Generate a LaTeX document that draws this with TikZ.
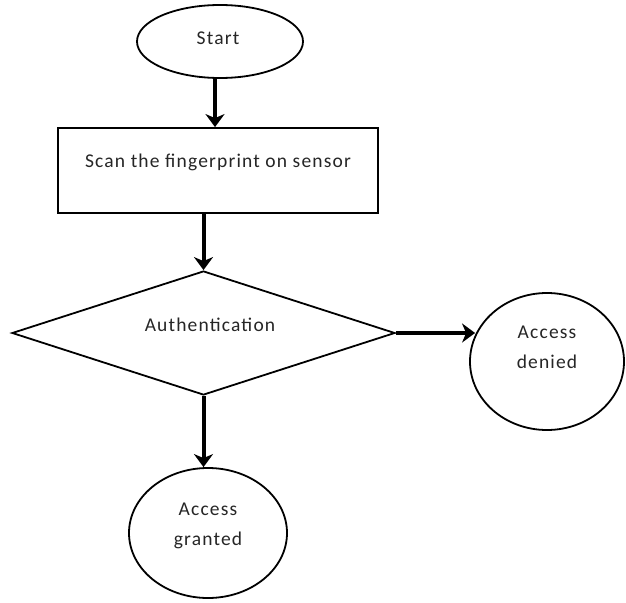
\documentclass[tikz,border=0pt]{standalone}
\usepackage{fontspec}
\setmainfont{Carlito}[LetterSpace=6]
\usetikzlibrary{shapes.geometric,arrows.meta}
\begin{document}
\begin{tikzpicture}[x=1pt,y=-1pt,
  shapebox/.style={draw=black,line width=1.8pt,inner sep=0pt,fill=white},
  txt/.style={font=\fontsize{19.5}{30}\selectfont,text=black!85,align=center,inner sep=0pt},
  arr/.style={draw=black,line width=4pt,-{Stealth[length=13pt,width=19pt,inset=4pt]}}]
\useasboundingbox (0,0) rectangle (626,602);
\node[shapebox,ellipse,minimum width=166pt,minimum height=73pt] (start) at (220,41.5) {};
\node[txt] (tstart) at (218,38) {Start};
\node[shapebox,rectangle,minimum width=320pt,minimum height=85pt] (box) at (218,170.5) {};
\node[txt] (tbox) at (218,162) {Scan the fingerprint on sensor};
\node[shapebox,diamond,minimum width=383pt,minimum height=124pt] (dia) at (203.5,333) {};
\node[txt] (tdia) at (210,325) {Authentication};
\node[shapebox,ellipse,minimum width=154pt,minimum height=137pt] (denied) at (547,361.5) {};
\node[txt] (tden) at (547,347.5) {Access\\denied};
\node[shapebox,ellipse,minimum width=158pt,minimum height=130pt] (granted) at (208,533) {};
\node[txt] (tgr) at (208,526) {Access\\granted};
\draw[arr] ([xshift=-5pt]start.south) -- ([xshift=-3pt]box.north);
\draw[arr] (box.south -| dia.north) -- (dia.north);
\draw[arr,shorten >=-6pt] (dia.east) -- (dia.east -| denied.west);
\draw[arr] (dia.south) -- (dia.south |- granted.north);
\end{tikzpicture}
\end{document}
